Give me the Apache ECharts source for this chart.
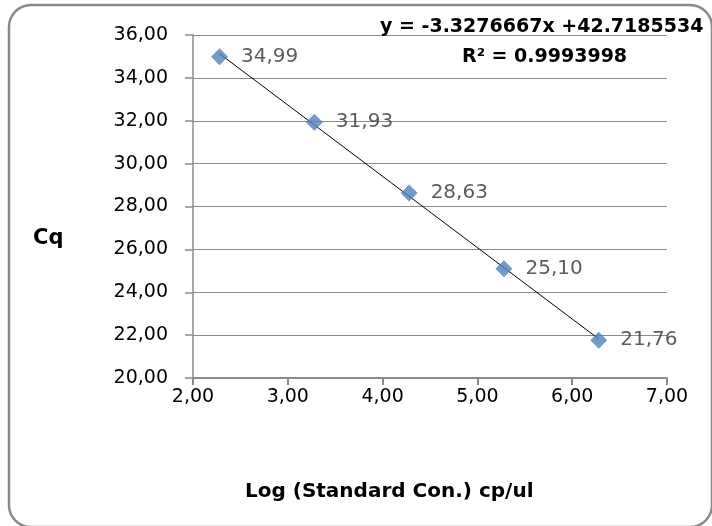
<!DOCTYPE html>
<html><head><meta charset="utf-8">
<script src="https://cdn.jsdelivr.net/npm/echarts@6/dist/echarts.min.js"></script>
<style>html,body{margin:0;padding:0;background:#fff}#c{width:712px;height:526px}</style>
</head><body><div id="c"></div>
<script>
const logConc = [2.28, 3.28, 4.28, 5.28, 6.28];
const cqValues = [34.99, 31.93, 28.63, 25.10, 21.76];
const trendSlope = -3.3276667;
const trendIntercept = 42.7185534;
const equationText = 'y = -3.3276667x +42.7185534';
const r2Text = 'R² = 0.9993998';
const xTitle = 'Log (Standard Con.) cp/ul';
const yTitle = 'Cq';

const fmt = v => v.toFixed(2).replace('.', ',');
const points = logConc.map((x, i) => [x, cqValues[i]]);
const xFirst = logConc[0], xLast = logConc[logConc.length - 1];
const trend = [[xFirst, trendSlope * xFirst + trendIntercept], [xLast, trendSlope * xLast + trendIntercept]];
const FONT = '"DejaVu Sans", sans-serif';

const chart = echarts.init(document.getElementById('c'));
chart.setOption({
  animation: false,
  backgroundColor: '#fff',
  grid: { left: 193, right: 45, top: 35, bottom: 148 },
  graphic: [
    { type: 'rect', shape: { x: 9, y: 5, width: 703, height: 522, r: 22 }, style: { fill: 'none', stroke: '#8a8a8a', lineWidth: 2.5 }, z: 0 },
    { type: 'text', left: 380, top: 18, style: { text: equationText, font: 'bold 19px ' + FONT, fill: '#000' }, z: 10 },
    { type: 'text', left: 462, top: 48, style: { text: r2Text, font: 'bold 19px ' + FONT, fill: '#000' }, z: 10 },
    { type: 'text', left: 33, top: 228, style: { text: yTitle, font: 'bold 21px ' + FONT, fill: '#000' }, z: 10 },
    { type: 'text', left: 245, top: 482, style: { text: xTitle, font: 'bold 20px ' + FONT, fill: '#000' }, z: 10 }
  ],
  xAxis: {
    type: 'value', min: 2, max: 7, interval: 1,
    axisLine: { show: true, lineStyle: { color: '#8a8a8a', width: 2 } },
    axisTick: { show: true, length: 7, lineStyle: { color: '#8a8a8a', width: 2 } },
    splitLine: { show: false },
    axisLabel: { formatter: fmt, fontFamily: FONT, fontSize: 19, color: '#000', margin: 10 }
  },
  yAxis: {
    type: 'value', min: 20, max: 36, interval: 2,
    axisLine: { show: true, lineStyle: { color: '#8a8a8a', width: 1.5 } },
    axisTick: { show: true, length: 8, lineStyle: { color: '#8a8a8a', width: 1.5 } },
    splitLine: { show: true, lineStyle: { color: '#8a8a8a', width: 1 } },
    axisLabel: { formatter: fmt, fontFamily: FONT, fontSize: 19, color: '#000', margin: 25 }
  },
  series: [
    {
      type: 'line', data: trend, symbol: 'none', silent: true,
      lineStyle: { color: '#000', width: 1 }, z: 3
    },
    {
      type: 'scatter', data: points, symbol: 'diamond', symbolSize: 17,
      itemStyle: { color: '#4F81BD' }, z: 4,
      label: { show: true, position: 'right', distance: 13, formatter: p => fmt(p.value[1]), fontFamily: FONT, fontSize: 20, color: '#333' }
    }
  ]
});
</script></body></html>
